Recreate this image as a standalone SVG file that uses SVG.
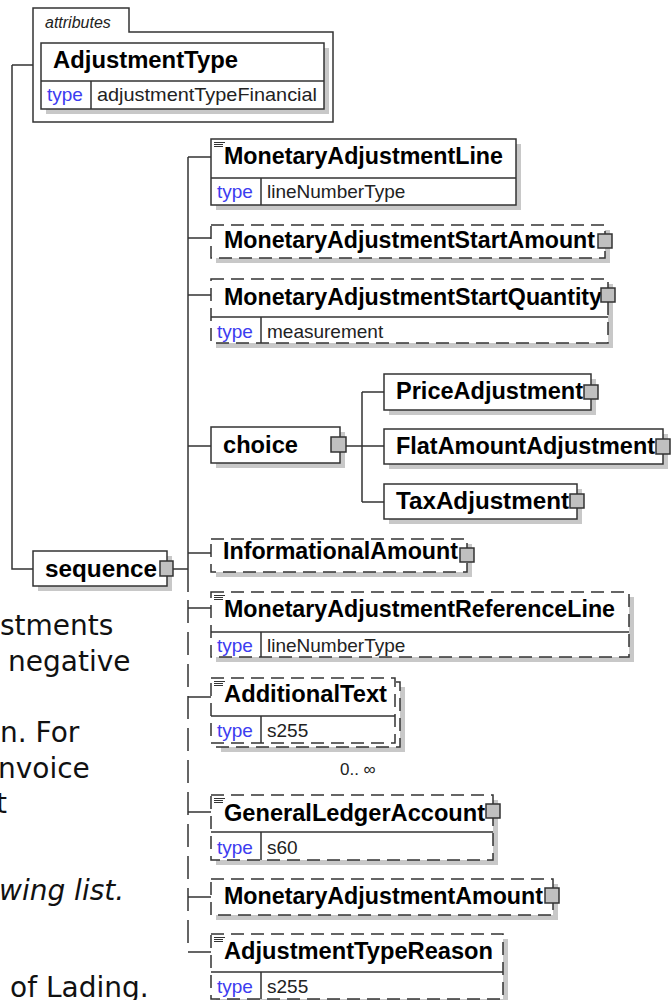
<svg xmlns="http://www.w3.org/2000/svg" width="671" height="1000" viewBox="0 0 671 1000">
<style>
.ln{stroke:#333;stroke-width:1.5;fill:none}
.box{fill:#fff;stroke:#333;stroke-width:1.5}
.dash{stroke-dasharray:13 7}
.sh{fill:#c8c8c8}
.sq{fill:#c0c0c0;stroke:#333;stroke-width:1.5}
.ic{stroke:#333;stroke-width:1}
.lbl{font-family:"Liberation Sans",Arial,sans-serif;font-weight:bold;font-size:23px;fill:#000}
.typ{font-family:"Liberation Sans",Arial,sans-serif;font-size:19px;fill:#3c3cf0}
.val{font-family:"Liberation Sans",Arial,sans-serif;font-size:19px;fill:#222}
.doc{font-family:"DejaVu Sans",Verdana,sans-serif;font-size:28px;fill:#111}
</style>
<rect width="671" height="1000" fill="#fff"/>

<g id="doc-text">
<text class="doc" x="0" y="635">stments</text>
<text class="doc" x="8" y="671">negative</text>
<text class="doc" x="0" y="742">n. For</text>
<text class="doc" x="-2" y="778">nvoice</text>
<text class="doc" x="-4" y="813">t</text>
<text class="doc" x="-1" y="900" font-style="italic">wing list.</text>
<text class="doc" x="10" y="997">of Lading.</text>
</g>

<g id="connectors">
<path class="ln" d="M12,65 H33 M12,65 V569 H33"/>
<path class="ln" d="M173,569 H188"/>
<path class="ln" d="M188,157 V592"/>
<path class="ln" d="M188,600 V952" stroke-dasharray="23 9"/>
<path class="ln" d="M188,157 H211 M188,238 H211 M188,295 H211 M188,446 H211 M188,553 H211 M188,608 H211 M188,697 H211 M188,812 H211 M188,897 H211 M188,952 H211"/>
<path class="ln" d="M346,446 H362 M362,392 V502 M362,392 H384 M362,446 H384 M362,502 H384"/>
</g>

<g id="attributes">
<path class="ln" d="M33,122 V8 H129 V32 H333 V122 Z" fill="#fff"/>
<text x="45" y="28" font-family="Liberation Sans, Arial, sans-serif" font-style="italic" font-size="16" fill="#222">attributes</text>
<rect class="sh" x="46" y="48" width="283" height="66"/>
<rect class="box" x="41" y="43" width="283" height="66"/>
<path class="ln" d="M41,81 H324 M91,81 V109"/>
<text class="lbl" x="53" y="68" textLength="185" lengthAdjust="spacingAndGlyphs">AdjustmentType</text>
<text class="typ" x="47" y="101">type</text>
<text class="val" x="97" y="101" textLength="220" lengthAdjust="spacingAndGlyphs">adjustmentTypeFinancial</text>
</g>

<g id="sequence">
<rect class="sh" x="38" y="556" width="134" height="35"/>
<rect class="box" x="33" y="551" width="134" height="35"/>
<text class="lbl" x="45" y="577" textLength="112" lengthAdjust="spacingAndGlyphs">sequence</text>
<rect class="sq" x="160" y="561" width="13" height="15"/>
</g>

<g id="MonetaryAdjustmentLine">
<rect class="sh" x="216" y="144" width="305" height="66"/>
<rect class="box" x="211" y="139" width="305" height="66"/>
<path class="ln" d="M211,178 H516 M261,178 V205"/>
<path class="ic" d="M214,142.5 H225 M214,144.5 H223 M214,146.5 H223"/>
<text class="lbl" x="224" y="164" textLength="279" lengthAdjust="spacingAndGlyphs">MonetaryAdjustmentLine</text>
<text class="typ" x="217" y="198">type</text>
<text class="val" x="267" y="198">lineNumberType</text>
</g>

<g id="MonetaryAdjustmentStartAmount">
<rect class="sh" x="216" y="230" width="394" height="33"/>
<rect class="box dash" x="211" y="225" width="394" height="33"/>
<text class="lbl" x="224" y="248" textLength="371" lengthAdjust="spacingAndGlyphs">MonetaryAdjustmentStartAmount</text>
<rect class="sq" x="598" y="234" width="14" height="14"/>
</g>

<g id="MonetaryAdjustmentStartQuantity">
<rect class="sh" x="216" y="284" width="397" height="64"/>
<rect class="box dash" x="211" y="279" width="397" height="64"/>
<path class="ln" d="M211,317 H608 M261,317 V343"/>
<text class="lbl" x="224" y="305" textLength="378" lengthAdjust="spacingAndGlyphs">MonetaryAdjustmentStartQuantity</text>
<rect class="sq" x="601" y="288" width="14" height="14"/>
<text class="typ" x="217" y="338">type</text>
<text class="val" x="267" y="338">measurement</text>
</g>

<g id="choice">
<rect class="sh" x="216" y="432" width="129" height="36"/>
<rect class="box" x="211" y="427" width="129" height="36"/>
<text class="lbl" x="223" y="453" textLength="75" lengthAdjust="spacingAndGlyphs">choice</text>
<rect class="sq" x="331" y="437" width="15" height="15"/>
</g>

<g id="PriceAdjustment">
<rect class="sh" x="389" y="379" width="207" height="36"/>
<rect class="box" x="384" y="374" width="207" height="36"/>
<text class="lbl" x="396" y="399" textLength="187" lengthAdjust="spacingAndGlyphs">PriceAdjustment</text>
<rect class="sq" x="584" y="385" width="14" height="14"/>
</g>

<g id="FlatAmountAdjustment">
<rect class="sh" x="389" y="434" width="279" height="35"/>
<rect class="box" x="384" y="429" width="279" height="35"/>
<text class="lbl" x="396" y="454" textLength="259" lengthAdjust="spacingAndGlyphs">FlatAmountAdjustment</text>
<rect class="sq" x="656" y="439" width="14" height="15"/>
</g>

<g id="TaxAdjustment">
<rect class="sh" x="389" y="489" width="193" height="35"/>
<rect class="box" x="384" y="484" width="193" height="35"/>
<text class="lbl" x="396" y="509" textLength="173" lengthAdjust="spacingAndGlyphs">TaxAdjustment</text>
<rect class="sq" x="570" y="494" width="14" height="14"/>
</g>

<g id="InformationalAmount">
<rect class="sh" x="216" y="544" width="256" height="33"/>
<rect class="box dash" x="211" y="539" width="256" height="33"/>
<text class="lbl" x="223" y="559" textLength="235" lengthAdjust="spacingAndGlyphs">InformationalAmount</text>
<rect class="sq" x="460" y="548" width="14" height="14"/>
</g>

<g id="MonetaryAdjustmentReferenceLine">
<rect class="sh" x="216" y="597" width="418" height="65"/>
<rect class="box dash" x="211" y="592" width="418" height="65"/>
<path class="ln" d="M211,632 H629 M261,632 V657"/>
<path class="ic" d="M214,595.5 H225 M214,597.5 H223 M214,599.5 H223"/>
<text class="lbl" x="224" y="617" textLength="391" lengthAdjust="spacingAndGlyphs">MonetaryAdjustmentReferenceLine</text>
<text class="typ" x="217" y="652">type</text>
<text class="val" x="267" y="652">lineNumberType</text>
</g>

<g id="AdditionalText">
<rect class="sh" x="221" y="687" width="184" height="65"/>
<rect class="box dash" x="216" y="682" width="184" height="65"/>
<rect class="box dash" x="211" y="678" width="184" height="65"/>
<path class="ln" d="M211,716 H395 M261,716 V743"/>
<path class="ic" d="M214,681.5 H225 M214,683.5 H223 M214,685.5 H223"/>
<text class="lbl" x="224" y="702" textLength="163" lengthAdjust="spacingAndGlyphs">AdditionalText</text>
<text class="typ" x="217" y="737">type</text>
<text class="val" x="267" y="737">s255</text>
<text x="340" y="775" font-family="Liberation Sans, Arial, sans-serif" font-size="17" fill="#222">0.. ∞</text>
</g>

<g id="GeneralLedgerAccount">
<rect class="sh" x="216" y="800" width="282" height="65"/>
<rect class="box dash" x="211" y="795" width="282" height="65"/>
<path class="ln" d="M211,832 H493 M261,832 V860"/>
<path class="ic" d="M214,798.5 H225 M214,800.5 H223 M214,802.5 H223"/>
<text class="lbl" x="224" y="821" textLength="261" lengthAdjust="spacingAndGlyphs">GeneralLedgerAccount</text>
<rect class="sq" x="486" y="804" width="14" height="14"/>
<text class="typ" x="217" y="854">type</text>
<text class="val" x="267" y="854">s60</text>
</g>

<g id="MonetaryAdjustmentAmount">
<rect class="sh" x="216" y="884" width="342" height="36"/>
<rect class="box dash" x="211" y="879" width="342" height="36"/>
<text class="lbl" x="224" y="904" textLength="319" lengthAdjust="spacingAndGlyphs">MonetaryAdjustmentAmount</text>
<rect class="sq" x="545" y="888" width="14" height="15"/>
</g>

<g id="AdjustmentTypeReason">
<rect class="sh" x="216" y="939" width="292" height="66"/>
<rect class="box dash" x="211" y="934" width="292" height="65"/>
<path class="ln" d="M211,972 H503 M261,972 V999"/>
<path class="ic" d="M214,937.5 H225 M214,939.5 H223 M214,941.5 H223"/>
<text class="lbl" x="224" y="959" textLength="269" lengthAdjust="spacingAndGlyphs">AdjustmentTypeReason</text>
<text class="typ" x="217" y="993">type</text>
<text class="val" x="267" y="993">s255</text>
</g>
</svg>
